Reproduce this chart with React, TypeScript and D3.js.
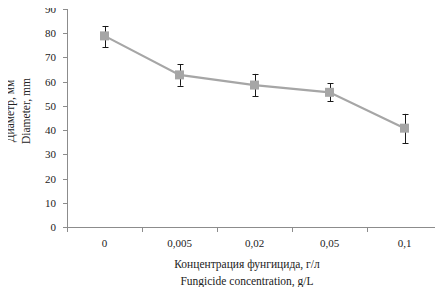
import React, { useEffect, useRef } from "react"
import * as d3 from "d3"

const categories = ["0", "0,005", "0,02", "0,05", "0,1"]
const diameters = [78.9, 62.8, 58.6, 55.6, 40.8]
const errLow = [74.3, 58.3, 54.0, 51.9, 34.6]
const errHigh = [83.0, 67.2, 63.2, 59.3, 46.7]
const yTicks = [0, 10, 20, 30, 40, 50, 60, 70, 80, 90]

const App = () => {
    const ref = useRef<SVGSVGElement | null>(null)

    useEffect(() => {
        if (!ref.current) return
        const svg = d3.select(ref.current)
        svg.selectAll("*").remove()

        const left = 67
        const right = 442
        const top = 9
        const bottom = 227
        const fs = "11px"
        const titleFs = "11.5px"
        const axisColor = "#8c8c8c"

        const x = d3.scaleBand().domain(categories).range([left, right])
        const y = d3.scaleLinear().domain([0, 90]).range([bottom, top])

        const data = categories.map((c, i) => ({
            c,
            v: diameters[i],
            lo: errLow[i],
            hi: errHigh[i],
        }))

        // y axis
        svg.append("line")
            .attr("x1", left + 0.5)
            .attr("x2", left + 0.5)
            .attr("y1", y(90))
            .attr("y2", bottom)
            .attr("stroke", axisColor)
        svg.append("g")
            .selectAll("line")
            .data(yTicks)
            .enter()
            .append("line")
            .attr("x1", left - 4)
            .attr("x2", left)
            .attr("y1", (d) => Math.round(y(d)) + 0.5)
            .attr("y2", (d) => Math.round(y(d)) + 0.5)
            .attr("stroke", axisColor)
        svg.append("g")
            .selectAll("text")
            .data(yTicks)
            .enter()
            .append("text")
            .attr("x", left - 11)
            .attr("y", (d) => y(d) + 4)
            .attr("text-anchor", "end")
            .attr("font-size", fs)
            .text((d) => d)

        // x axis
        svg.append("line")
            .attr("x1", left)
            .attr("x2", right)
            .attr("y1", bottom + 0.5)
            .attr("y2", bottom + 0.5)
            .attr("stroke", axisColor)
        const bounds = categories.map((c) => x(c) as number).concat([right])
        svg.append("g")
            .selectAll("line")
            .data(bounds)
            .enter()
            .append("line")
            .attr("x1", (d) => Math.round(d) + 0.5)
            .attr("x2", (d) => Math.round(d) + 0.5)
            .attr("y1", bottom)
            .attr("y2", bottom + 5)
            .attr("stroke", axisColor)
        svg.append("g")
            .selectAll("text")
            .data(categories)
            .enter()
            .append("text")
            .attr("x", (d) => (x(d) as number) + x.bandwidth() / 2)
            .attr("y", bottom + 20)
            .attr("text-anchor", "middle")
            .attr("font-size", fs)
            .text((d) => d)

        // axis titles
        const xMid = 247
        svg.append("text")
            .attr("x", xMid)
            .attr("y", 268)
            .attr("text-anchor", "middle")
            .attr("font-size", titleFs)
            .text("Концентрация фунгицида, г/л")
        svg.append("text")
            .attr("x", xMid)
            .attr("y", 285)
            .attr("text-anchor", "middle")
            .attr("font-size", titleFs)
            .text("Fungicide concentration, g/L")

        const yMid = 111
        svg.append("text")
            .attr("transform", `translate(14,${yMid}) rotate(-90)`)
            .attr("text-anchor", "middle")
            .attr("font-size", titleFs)
            .text("Диаметр, мм")
        svg.append("text")
            .attr("transform", `translate(30,${yMid}) rotate(-90)`)
            .attr("text-anchor", "middle")
            .attr("font-size", titleFs)
            .text("Diameter, mm")

        const cx = (d: { c: string }) => (x(d.c) as number) + x.bandwidth() / 2

        // line
        const line = d3
            .line<(typeof data)[number]>()
            .x(cx)
            .y((d) => y(d.v))
        svg.append("path")
            .datum(data)
            .attr("d", line)
            .attr("fill", "none")
            .attr("stroke", "#a6a6a6")
            .attr("stroke-width", 2.2)

        // error bars
        const eb = svg.append("g").attr("stroke", "#1a1a1a").attr("stroke-width", 1)
        data.forEach((d) => {
            const px = Math.round(cx(d)) + 0.5
            eb.append("line")
                .attr("x1", px)
                .attr("x2", px)
                .attr("y1", y(d.lo))
                .attr("y2", y(d.hi))
            ;[d.lo, d.hi].forEach((v) => {
                eb.append("line")
                    .attr("x1", px - 3)
                    .attr("x2", px + 3)
                    .attr("y1", Math.round(y(v)) + 0.5)
                    .attr("y2", Math.round(y(v)) + 0.5)
            })
        })

        // markers
        svg.append("g")
            .selectAll("rect")
            .data(data)
            .enter()
            .append("rect")
            .attr("x", (d) => cx(d) - 4.5)
            .attr("y", (d) => y(d.v) - 4.5)
            .attr("width", 9)
            .attr("height", 9)
            .attr("fill", "#a6a6a6")
    }, [])

    return (
        <svg
            ref={ref}
            width={443}
            height={295}
            style={{
                display: "block",
                margin: "-8px",
                fontFamily: "'Liberation Serif', 'Times New Roman', 'DejaVu Serif', serif",
                fill: "#222",
            }}
        />
    )
}

export default App
